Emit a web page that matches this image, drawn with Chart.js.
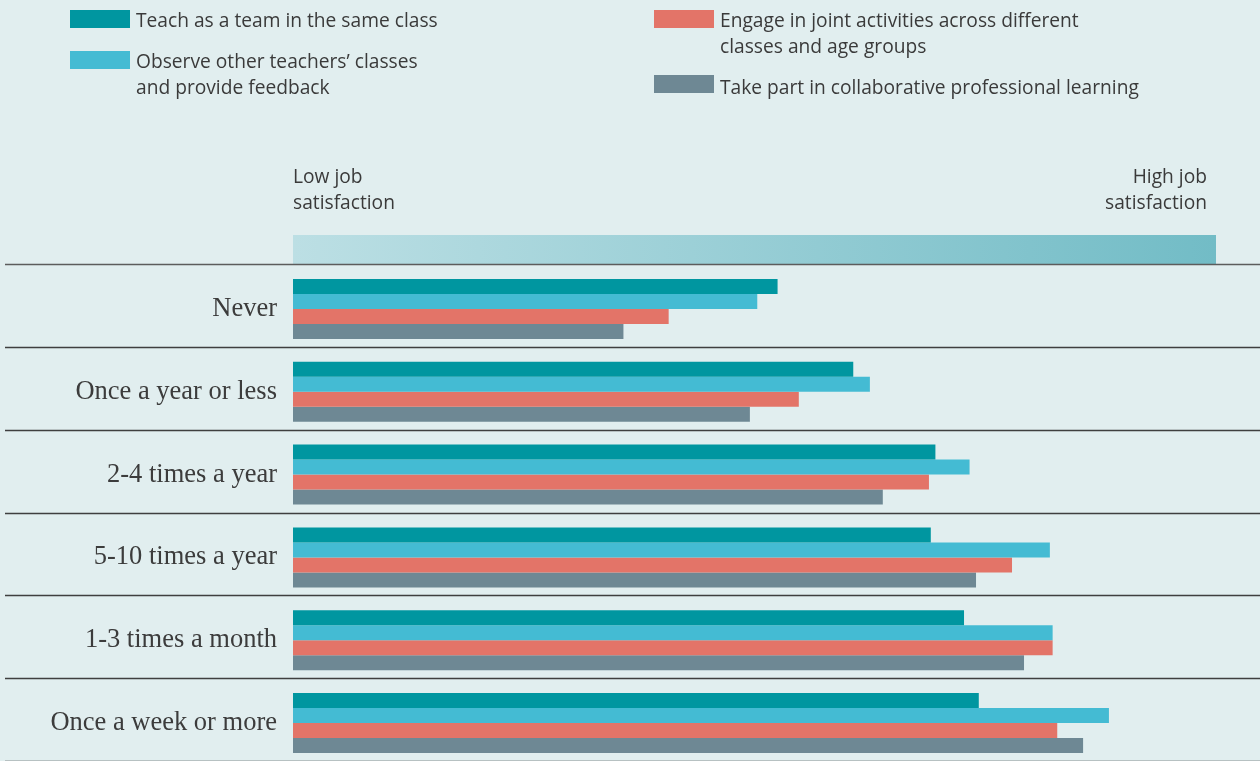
<!DOCTYPE html>
<html>
<head>
<meta charset="utf-8">
<script src="https://cdn.jsdelivr.net/npm/chart.js@4"></script>
<style>
  html, body { margin: 0; padding: 0; background: #e1eeef; }
  #wrap { position: relative; width: 1260px; height: 761px; overflow: hidden; }
  #chart { position: absolute; left: 0; top: 0; }
  .lg { position: absolute; font-family: "Open Sans", sans-serif; font-size: 19.2px; line-height: 26px; color: #3a3a3a; }
  .sw { position: absolute; width: 60px; height: 18px; }
</style>
</head>
<body>
<div id="wrap">
  <canvas id="chart" width="1260" height="761"></canvas>
</div>
<script>
const categories = ["Never", "Once a year or less", "2-4 times a year", "5-10 times a year", "1-3 times a month", "Once a week or more"];

const seriesNames = [
  ["Teach as a team in the same class"],
  ["Observe other teachers\u2019 classes", "and provide feedback"],
  ["Engage in joint activities across different", "classes and age groups"],
  ["Take part in collaborative professional learning"]
];
const seriesColors = ["#0096a0", "#44bbd3", "#e37468", "#6e8894"];

// relative position on the low -> high job satisfaction scale (0-100)
const teachTeam = [52.5, 60.7, 69.6, 69.1, 72.7, 74.3];
const observe = [50.3, 62.5, 73.3, 82.0, 82.3, 88.4];
const jointActivities = [40.7, 54.8, 68.9, 77.9, 82.3, 82.8];
const collabLearning = [35.8, 49.5, 63.9, 74.0, 79.2, 85.6];

const scaleLabels = { low: ["Low job", "satisfaction"], high: ["High job", "satisfaction"] };

// legend (two columns)
const legendPos = [
  { x: 70, y: 10 }, { x: 70, y: 51 }, { x: 654, y: 10 }, { x: 654, y: 75 }
];
const wrap = document.getElementById("wrap");
seriesNames.forEach((lines, i) => {
  const sw = document.createElement("div");
  sw.className = "sw";
  sw.style.left = legendPos[i].x + "px";
  sw.style.top = legendPos[i].y + "px";
  sw.style.background = seriesColors[i];
  wrap.appendChild(sw);
  const t = document.createElement("div");
  t.className = "lg";
  t.style.left = (legendPos[i].x + 66) + "px";
  t.style.top = (legendPos[i].y - 3 + (i === 3 ? 2 : 0)) + "px";
  t.innerHTML = lines.join("<br>");
  wrap.appendChild(t);
});

// bar groups and labels sit a little below the middle of each row
const ROW_SHIFT = 3.5;

const decor = {
  id: "decor",
  beforeDatasetsDraw(chart) {
    const { ctx, scales: { x, y } } = chart;
    ctx.save();
    // gradient header bar
    const g = ctx.createLinearGradient(x.left, 0, x.right, 0);
    g.addColorStop(0, "#bcdfe4");
    g.addColorStop(1, "#72bcc6");
    ctx.fillStyle = g;
    ctx.fillRect(x.left, y.top - 29, x.right - x.left, 29);

    ctx.fillStyle = "#3a3a3a";
    ctx.font = "19.2px 'Open Sans', sans-serif";
    ctx.textBaseline = "middle";
    ctx.textAlign = "left";
    scaleLabels.low.forEach((s, i) => ctx.fillText(s, x.left, 178 + i * 26));
    ctx.textAlign = "right";
    scaleLabels.high.forEach((s, i) => ctx.fillText(s, x.right - 9, 178 + i * 26));

    // row separators
    for (let i = 0; i <= categories.length; i++) {
      const py = Math.round(y.getPixelForValue(i - 0.5)) + 0.5;
      ctx.strokeStyle = i === 0 ? "#5c5c5c" : "#3f3f3f";
      ctx.lineWidth = 1.5;
      ctx.beginPath();
      ctx.moveTo(5, py);
      ctx.lineTo(chart.width, py);
      ctx.stroke();
    }
    ctx.restore();

    ctx.save();
    ctx.translate(0, ROW_SHIFT);
  },
  afterDatasetsDraw(chart) {
    chart.ctx.restore();
  }
};

const makeSet = (label, data, color) => ({
  label: label,
  data: data,
  backgroundColor: color,
  borderWidth: 0,
  categoryPercentage: 0.724,
  barPercentage: 1.0
});

new Chart(document.getElementById("chart"), {
  type: "bar",
  data: {
    labels: categories,
    datasets: [
      makeSet(seriesNames[0].join(" "), teachTeam, seriesColors[0]),
      makeSet(seriesNames[1].join(" "), observe, seriesColors[1]),
      makeSet(seriesNames[2].join(" "), jointActivities, seriesColors[2]),
      makeSet(seriesNames[3].join(" "), collabLearning, seriesColors[3])
    ]
  },
  options: {
    indexAxis: "y",
    responsive: false,
    animation: false,
    layout: { padding: { top: 264, right: 44, bottom: 0, left: 0 } },
    plugins: { legend: { display: false }, tooltip: { enabled: false } },
    scales: {
      x: {
        min: 0,
        max: 100,
        display: false
      },
      y: {
        grid: { display: false, drawTicks: false },
        border: { display: false },
        afterFit(scale) {
          scale.width = 293;
          scale.paddingTop = 0;
          scale.paddingBottom = 0;
        },
        ticks: {
          padding: 16,
          labelOffset: ROW_SHIFT,
          color: "#3c3c3c",
          font: { family: "'Liberation Serif', serif", size: 26.5 }
        }
      }
    }
  },
  plugins: [decor]
});
</script>
</body>
</html>
